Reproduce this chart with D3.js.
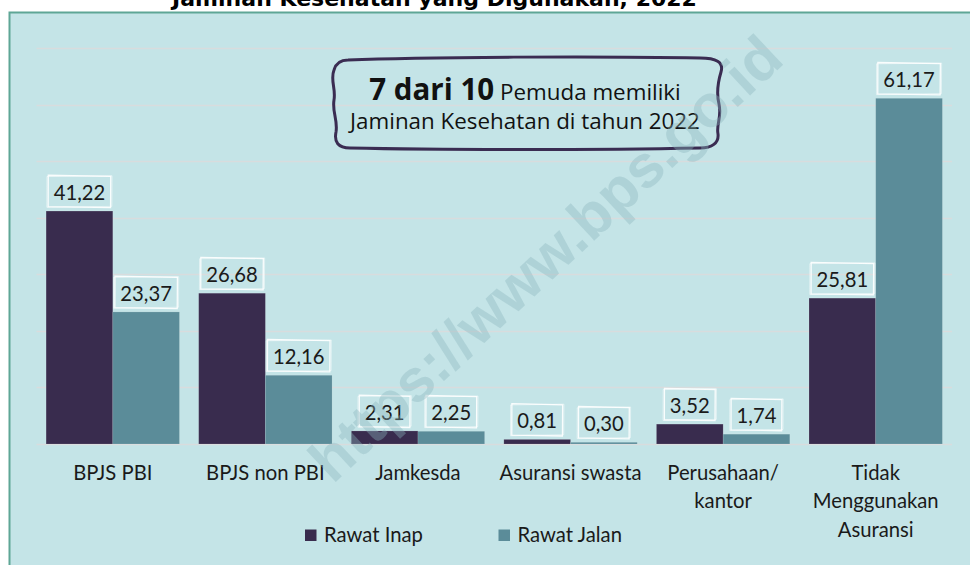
<!DOCTYPE html>
<html>
<head>
<meta charset="utf-8">
<script src="https://cdn.jsdelivr.net/npm/d3@7/dist/d3.min.js"></script>
<style>
  html, body { margin: 0; padding: 0; background: #ffffff; }
  svg { display: block; }
</style>
</head>
<body>
<svg id="chart" width="970" height="565"></svg>
<script>
// ---------- data ----------
const title = "Jaminan Kesehatan yang Digunakan, 2022";
const categories = ["BPJS PBI", "BPJS non PBI", "Jamkesda", "Asuransi swasta", "Perusahaan/\nkantor", "Tidak\nMenggunakan\nAsuransi"];
const seriesNames = ["Rawat Inap", "Rawat Jalan"];
const rawatInap  = [41.22, 26.68, 2.31, 0.81, 3.52, 25.81];
const rawatJalan = [23.37, 12.16, 2.25, 0.30, 1.74, 61.17];
const yTicks = [0, 10, 20, 30, 40, 50, 60, 70];
const calloutBold = "7 dari 10";
const calloutRest = " Pemuda memiliki";
const calloutLine2 = "Jaminan Kesehatan di tahun 2022";
const watermark = "https://www.bps.go.id";

// ---------- styles ----------
const colors = { "Rawat Inap": "#392c4e", "Rawat Jalan": "#5b8c99" };
const BG = "#c4e4e7";
const BODY_FONT = "Lato, 'Open Sans', sans-serif";
const CALLOUT_FONT = "'Open Sans', sans-serif";

const svg = d3.select("#chart");

function fitSize(family, weight, text, target) {
  const t = svg.append("text")
    .style("font-family", family).style("font-weight", weight)
    .style("font-size", "100px").text(text);
  const w = t.node().getComputedTextLength();
  t.remove();
  return 100 * target / w;
}

const bodySize = fitSize(BODY_FONT, 400, "Asuransi swasta", 142);
const titleSize = fitSize("'DejaVu Sans', sans-serif", 700, title, 525);
const boldSize = fitSize(CALLOUT_FONT, 700, calloutBold, 125);
const line2Size = fitSize(CALLOUT_FONT, 400, calloutLine2, 350);

// ---------- title ----------
svg.append("text")
  .attr("x", 434.5).attr("y", 6)
  .attr("text-anchor", "middle")
  .style("font-family", "'DejaVu Sans', sans-serif")
  .style("font-weight", 700)
  .style("font-size", titleSize + "px")
  .style("fill", "#000")
  .text(title);

// ---------- panel ----------
svg.append("rect")
  .attr("x", 9.5).attr("y", 12.5)
  .attr("width", 980).attr("height", 570)
  .attr("fill", BG)
  .attr("stroke", "#5ea696").attr("stroke-width", 2);

// ---------- scales ----------
const x0 = d3.scaleBand().domain(categories).range([36.5, 952])
  .paddingInner(0.126).paddingOuter(0.063);
const x1 = d3.scaleBand().domain(seriesNames).range([0, x0.bandwidth()]).padding(0);
const y = d3.scaleLinear().domain([0, 70]).range([444, 48.4]);

// gridlines
svg.append("g").selectAll("line").data(yTicks).join("line")
  .attr("x1", 36.5).attr("x2", 952)
  .attr("y1", d => Math.round(y(d)) + 0.5).attr("y2", d => Math.round(y(d)) + 0.5)
  .attr("stroke", "#d8dcdd").attr("stroke-width", 1.3);

// ---------- bars ----------
const rows = categories.map((c, i) => ({ cat: c, vals: [
  { s: seriesNames[0], v: rawatInap[i] },
  { s: seriesNames[1], v: rawatJalan[i] }
]}));

const groups = svg.append("g").selectAll("g").data(rows).join("g")
  .attr("transform", d => `translate(${x0(d.cat)},0)`);

groups.selectAll("rect").data(d => d.vals).join("rect")
  .attr("x", d => x1(d.s))
  .attr("y", d => y(d.v))
  .attr("width", x1.bandwidth())
  .attr("height", d => y(0) - y(d.v))
  .attr("fill", d => colors[d.s])
  .attr("stroke", "rgba(255,255,255,0.15)").attr("stroke-width", 0.8);

// ---------- value labels with sketchy boxes ----------
const fmt = v => d3.format(".2f")(v).replace(".", ",");
const jit = [[0.6, -0.8, -0.5, 0.7], [-0.7, 0.5, 0.8, -0.6]];
function sketchRect(g, x, yTop, w, h) {
  jit.forEach((j, k) => {
    const p = d3.path();
    p.moveTo(x + j[0], yTop + j[1]);
    p.lineTo(x + w + j[2], yTop - j[1] * 0.5);
    p.lineTo(x + w - j[3], yTop + h + j[0]);
    p.lineTo(x - j[2], yTop + h - j[3] * 0.5);
    p.closePath();
    g.append("path").attr("d", p.toString())
      .attr("fill", "none")
      .attr("stroke", "#ffffff")
      .attr("stroke-opacity", k === 0 ? 0.9 : 0.55)
      .attr("stroke-width", k === 0 ? 1.3 : 0.9);
  });
}

groups.each(function(d) {
  const g = d3.select(this);
  d.vals.forEach(item => {
    const cx = x1(item.s) + x1.bandwidth() / 2;
    const txt = fmt(item.v);
    const t = g.append("text")
      .attr("x", cx)
      .attr("y", y(item.v) - 11)
      .attr("text-anchor", "middle")
      .style("font-family", BODY_FONT)
      .style("font-size", bodySize + "px")
      .style("fill", "#1a1a1a")
      .text(txt);
    const w = t.node().getComputedTextLength() + 12;
    sketchRect(g, cx - w / 2, y(item.v) - 35, w, 31);
  });
});

// ---------- category labels ----------
const catG = svg.append("g");
categories.forEach(c => {
  const lines = c.split("\n");
  const t = catG.append("text")
    .attr("text-anchor", "middle")
    .style("font-family", BODY_FONT)
    .style("font-size", bodySize + "px")
    .style("fill", "#1a1a1a");
  lines.forEach((ln, i) => {
    t.append("tspan")
      .attr("x", x0(c) + x0.bandwidth() / 2)
      .attr("y", 480 + i * 28.3)
      .text(ln);
  });
});

// ---------- legend ----------
const legendX = [305, 498.5];
const leg = svg.append("g");
seriesNames.forEach((s, i) => {
  leg.append("rect")
    .attr("x", legendX[i]).attr("y", 529.5)
    .attr("width", 11.5).attr("height", 11.5)
    .attr("fill", colors[s]);
  leg.append("text")
    .attr("x", legendX[i] + 19).attr("y", 541.5)
    .style("font-family", BODY_FONT)
    .style("font-size", bodySize + "px")
    .style("fill", "#1a1a1a")
    .text(s);
});

// ---------- callout ----------
const callout = "M 348 60 C 420 57, 600 56, 700 58 C 716 58, 724 62, 721 72 " +
  "C 718 82, 716 92, 719 104 C 722 118, 716 124, 718 134 C 719 143, 712 148, 700 148 " +
  "C 600 150, 440 150, 350 148 C 338 148, 334 142, 336 132 C 338 120, 332 112, 334 100 " +
  "C 336 88, 330 80, 334 70 C 336 63, 340 60, 348 60 Z";
svg.append("path").attr("d", callout)
  .attr("fill", "none").attr("stroke", "#3a2c52").attr("stroke-width", 3)
  .attr("stroke-linejoin", "round");

const c1 = svg.append("text")
  .attr("x", 525).attr("y", 100)
  .attr("text-anchor", "middle")
  .style("font-family", CALLOUT_FONT)
  .style("fill", "#111");
c1.append("tspan").style("font-weight", 700).style("font-size", boldSize + "px").text(calloutBold);
c1.append("tspan").style("font-weight", 400).style("font-size", line2Size + "px").text(calloutRest);

svg.append("text")
  .attr("x", 525).attr("y", 129)
  .attr("text-anchor", "middle")
  .style("font-family", CALLOUT_FONT)
  .style("font-size", line2Size + "px")
  .style("fill", "#111")
  .text(calloutLine2);

// ---------- watermark ----------
const wmSize = fitSize("'Liberation Sans', sans-serif", 700, watermark, 620);
svg.append("text")
  .attr("transform", "translate(545,258) rotate(-43)")
  .attr("text-anchor", "middle")
  .attr("dy", "0.35em")
  .style("font-family", "'Liberation Sans', sans-serif")
  .style("font-weight", 700)
  .style("font-size", wmSize + "px")
  .style("fill", "rgb(140,182,190)")
  .style("fill-opacity", 0.38)
  .text(watermark);
</script>
</body>
</html>
